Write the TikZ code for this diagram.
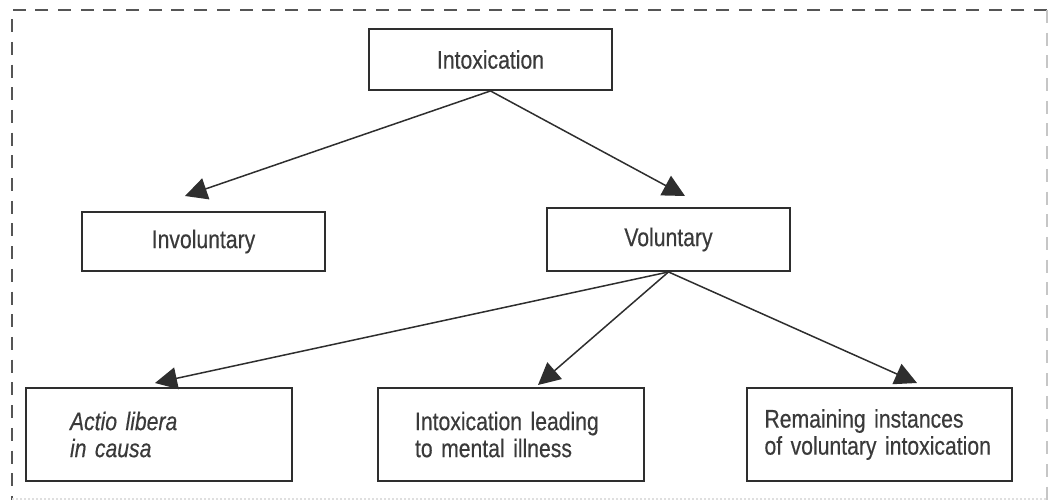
\documentclass[tikz,border=0pt]{standalone}
\usepackage{fontspec}
\setmainfont{Liberation Sans}[FakeStretch=0.83,FakeBold=0.4]
\usetikzlibrary{arrows.meta}
\definecolor{ink}{HTML}{2E2E2E}
\definecolor{txt}{HTML}{3A3A3A}
\definecolor{frame}{HTML}{555555}
\begin{document}
\begin{tikzpicture}[x=1pt,y=-1pt,
  box/.style={draw=ink,line width=1.9pt,text=txt,font=\fontsize{25.5}{27}\selectfont,inner sep=0pt},
  wide/.style={box,minimum width=266pt,minimum height=93pt,align=left},
  conn/.style={draw=ink,line width=1.5pt,-{Triangle[length=22pt,width=22pt]}}]
\useasboundingbox (0,0) rectangle (1049,502);
% frame
\draw[frame,line width=2pt,dash pattern=on 13pt off 9.7pt] (1047,10) -- (12,10) -- (12,500);
\draw[gray!45,line width=1.5pt,dash pattern=on 13pt off 9.7pt] (1047,10) -- (1047,500);
\draw[gray!25,line width=1.5pt,dash pattern=on 2pt off 2pt] (12,499) -- (1047,499);
% nodes
\node[box,minimum width=243pt,minimum height=61pt] (intox) at (490.5,59.5) {Intoxication};
\node[box,minimum width=243pt,minimum height=59pt] (invol) at (203.5,241.5) {Involuntary};
\node[box,minimum width=243pt,minimum height=63pt] (vol) at (668.5,239.5) {Voluntary};
\node[wide,text width=178pt,font=\fontsize{25.5}{27}\selectfont\itshape] (actio) at (159,434.5) {Actio libera\\in causa};
\node[wide,text width=192pt] (lead) at (511,434.5) {Intoxication leading\\to mental illness};
\node[wide,minimum width=265pt,text width=230pt] (rem) at (879.5,434.5) {Remaining instances\\of voluntary intoxication};
% arrow tips
\coordinate (t1) at (185,196);
\coordinate (t2) at (685,196);
\coordinate (t3) at (155,383);
\coordinate (t4) at (538,385);
\coordinate (t5) at (917,383);
% connectors
\draw[conn] (intox.south) -- (t1);
\draw[conn] (intox.south) -- (t2);
\draw[conn] (vol.south) -- (t3);
\draw[conn] (vol.south) -- (t4);
\draw[conn] (vol.south) -- (t5);
\end{tikzpicture}
\end{document}
